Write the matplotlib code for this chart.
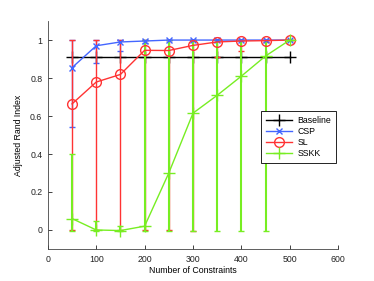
import numpy as np
import matplotlib
matplotlib.use('Agg')
from matplotlib import pyplot as plt

plt.rcParams['font.family'] = ['Liberation Sans', 'DejaVu Sans']

n_cons = [50, 100, 150, 200, 250, 300, 350, 400, 450, 500]

baseline = [0.91] * 10

csp = [0.855, 0.97, 0.99, 0.995, 1.0, 1.0, 1.0, 1.0, 1.0, 1.0]
csp_lo = [0.544, 0.88, 0.943, 0.985, 1.0, 1.0, 1.0, 1.0, 1.0, 1.0]
csp_hi = [1.0, 1.0, 1.0, 1.0, 1.0, 1.0, 1.0, 1.0, 1.0, 1.0]

sl = [0.664, 0.779, 0.819, 0.946, 0.945, 0.972, 0.99, 0.995, 0.997, 1.0]
sl_lo = [0.0, 0.0, 0.0, 0.0, 0.0, -0.005, 0.91, 0.94, 0.99, 1.0]
sl_hi = [1.0, 1.0, 1.0, 1.0, 1.0, 1.0, 1.0, 1.0, 1.0, 1.0]

sskk = [0.06, 0.0, -0.003, 0.02, 0.30, 0.615, 0.709, 0.81, 0.916, 1.0]
sskk_lo = [-0.008, -0.008, -0.008, -0.005, -0.005, -0.005, -0.005, -0.005, -0.005, 1.0]
sskk_hi = [0.40, 0.045, 0.02, 1.0, 1.0, 1.0, 1.0, 1.0, 1.0, 1.0]

fig = plt.figure(figsize=(3.74, 2.81), dpi=100)
ax = fig.add_axes([0.128, 0.114, 0.776, 0.811])

x = np.array(n_cons)
lw = 1.0
fs = 6.3

def yerr(v, lo, hi):
    v = np.array(v); lo = np.array(lo); hi = np.array(hi)
    return [v - lo, hi - v]

h1, = ax.plot(x, baseline, color='black', marker='+', ms=8, mew=1.0, lw=lw)
e2 = ax.errorbar(x, csp, yerr=yerr(csp, csp_lo, csp_hi), color='#4466ff', marker='x',
                 ms=5, mew=1.0, lw=lw, elinewidth=lw, capsize=2)
e3 = ax.errorbar(x, sl, yerr=yerr(sl, sl_lo, sl_hi), color='#ff3333', marker='o',
                 ms=7, mfc='none', mew=1.0, lw=lw, elinewidth=1.0, capsize=2)
e4 = ax.errorbar(x, sskk, yerr=yerr(sskk, sskk_lo, sskk_hi), color='#77ee22', marker='+',
                 ms=8, mew=1.0, lw=lw, elinewidth=1.5, capsize=2)

ax.set_xlim(0, 600)
ax.set_ylim(-0.1, 1.1)
ax.set_xticks(range(0, 601, 100))
ax.set_yticks([0, 0.2, 0.4, 0.6, 0.8, 1])
ax.set_yticklabels(['0', '0.2', '0.4', '0.6', '0.8', '1'])
ax.tick_params(direction='in', length=3, width=0.6, labelsize=fs, colors='#222222', pad=4)
for s in ['top', 'right']:
    ax.spines[s].set_visible(False)
for s in ['left', 'bottom']:
    ax.spines[s].set_linewidth(0.6)
    ax.spines[s].set_color('#444444')

ax.set_xlabel('Number of Constraints', fontsize=fs, labelpad=2)
ax.set_ylabel('Adjusted Rand Index', fontsize=fs, labelpad=5)

leg = ax.legend([h1, e2[0], e3[0], e4[0]], ['Baseline', 'CSP', 'SL', 'SSKK'],
                loc='upper left', bbox_to_anchor=(0.734, 0.605), fontsize=fs,
                fancybox=False, framealpha=1, edgecolor='black', borderpad=0.55,
                handlelength=3.0, handletextpad=0.6, labelspacing=0.25,
                borderaxespad=0)
leg.get_frame().set_linewidth(0.6)

fig.savefig('out.png', dpi=100)
